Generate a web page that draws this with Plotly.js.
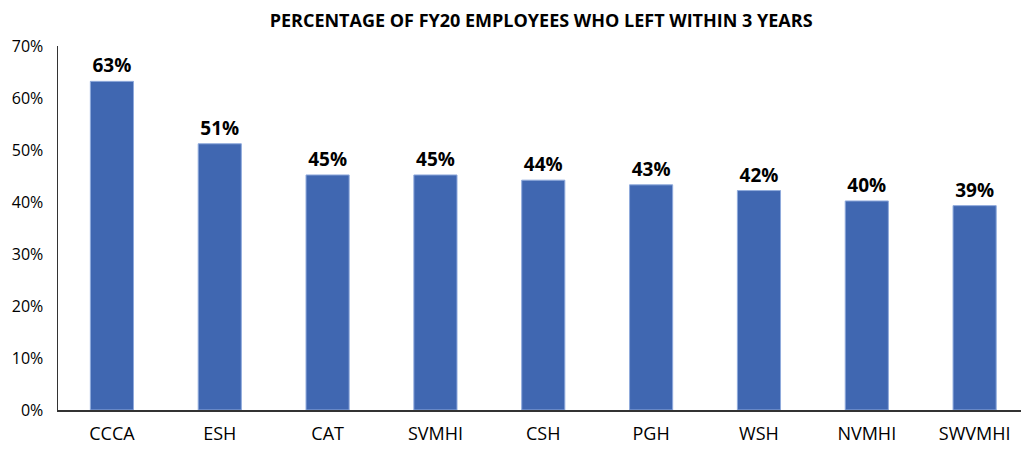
<!DOCTYPE html>
<html><head><meta charset="utf-8">
<script src="https://cdn.plot.ly/plotly-3.0.1.min.js"></script>
<style>html,body{margin:0;padding:0;background:#fff}#c{width:1021px;height:449px}</style>
</head><body><div id="c"></div>
<script>
const categories = ["CCCA","ESH","CAT","SVMHI","CSH","PGH","WSH","NVMHI","SWVMHI"];
const values = [63.2, 51.2, 45.2, 45.2, 44.2, 43.3, 42.2, 40.2, 39.3];
const labels = ["63%","51%","45%","45%","44%","43%","42%","40%","39%"];
const yTickVals = [0,10,20,30,40,50,60,70];
const yTickText = ["0%","10%","20%","30%","40%","50%","60%","70%"];

Plotly.newPlot("c", [{
  type: "bar",
  x: categories,
  y: values,
  text: labels,
  textposition: "outside",
  cliponaxis: false,
  textfont: {family: "Open Sans, sans-serif", size: 19, color: "#000", weight: 700},
  marker: {color: "#4067B1", line: {color: "#8FAADC", width: 1}},
  width: 0.4,
  hoverinfo: "none"
}], {
  width: 1021, height: 449,
  margin: {l: 58, r: 0, t: 46, b: 39},
  paper_bgcolor: "#fff", plot_bgcolor: "#fff",
  title: {text: "<b>PERCENTAGE OF FY20 EMPLOYEES WHO LEFT WITHIN 3 YEARS</b>",
    font: {family: "Open Sans, sans-serif", size: 18, color: "#000"},
    x: 0.53, xanchor: "center", y: 0.955, yanchor: "middle"},
  xaxis: {showline: true, linecolor: "#333", linewidth: 1.5, ticks: "", showgrid: false,
    tickfont: {family: "Open Sans, sans-serif", size: 18, color: "#000"}, ticklabelstandoff: 7,
    range: [-0.5, 8.43]},
  yaxis: {range: [0, 70], tickvals: yTickVals, ticktext: yTickText, showline: true,
    linecolor: "#333", linewidth: 1.5, ticks: "", showgrid: false, zeroline: false,
    tickfont: {family: "Open Sans, sans-serif", size: 16, color: "#000"}, ticklabelstandoff: 10},
  showlegend: false,
  bargap: 0.6
}, {staticPlot: true});
</script></body></html>
